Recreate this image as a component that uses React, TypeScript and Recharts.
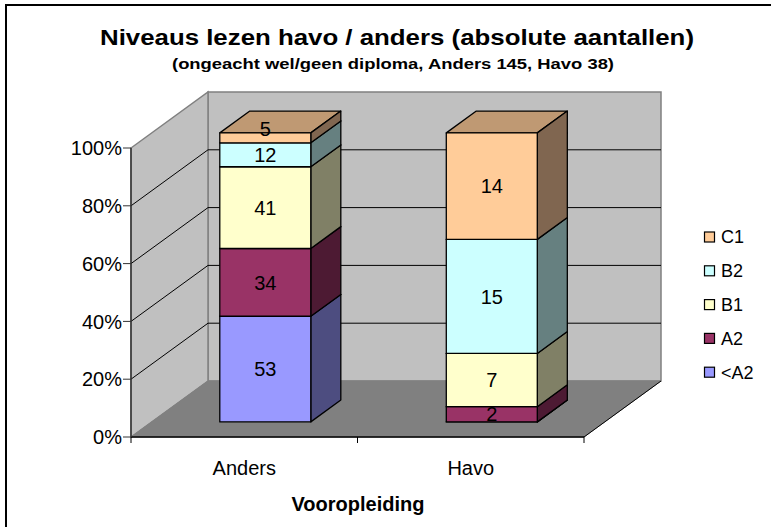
import React from "react";
import { BarChart, Bar, XAxis, YAxis, LabelList } from "recharts";

// reading levels per prior education (absolute counts, shown as 100% stacks)
const categories = ["Anders", "Havo"];
const belowA2 = [53, 0];
const a2 = [34, 2];
const b1 = [41, 7];
const b2 = [12, 15];
const c1 = [5, 14];
const percentTicks = [0, 0.2, 0.4, 0.6, 0.8, 1];

const levels = [
  { key: "belowA2", name: "<A2", values: belowA2, front: "#9999FF", top: "#7373BF", side: "#4D4D80" },
  { key: "a2", name: "A2", values: a2, front: "#993366", top: "#73264D", side: "#4D1A33" },
  { key: "b1", name: "B1", values: b1, front: "#FFFFCC", top: "#BFBF99", side: "#808066" },
  { key: "b2", name: "B2", values: b2, front: "#CCFFFF", top: "#99BFBF", side: "#668080" },
  { key: "c1", name: "C1", values: c1, front: "#FFCC99", top: "#BF9973", side: "#806650" },
];

const data = categories.map((name, i) => {
  const row: Record<string, string | number> = { name };
  levels.forEach((l) => (row[l.key] = l.values[i]));
  return row;
});

// layout of the fake 3D box
const W = 771;
const H = 527;
const LEFT = 131;
const RIGHT = 584;
const TOP = 148;
const BOTTOM = 437;
const DX = 77; // depth of the floor
const DY = 56;
const FRONT = 0.27; // where the bar's front face sits in the depth
const BAR_DEPTH = 0.39;
const FX = DX * FRONT;
const FY = DY * FRONT;
const BX = DX * BAR_DEPTH;
const BY = DY * BAR_DEPTH;

const yAt = (v: number) => BOTTOM - v * (BOTTOM - TOP);
const font = "'Liberation Sans', Arial, sans-serif";

function Box3D(props: any) {
  const { x, y, width, height, fill, side, top } = props;
  if (width == null || height == null) return null;
  const fx = x + FX;
  const fy = y - FY;
  const st = { stroke: "#000", strokeWidth: 1.3, strokeLinejoin: "round" as const };
  return (
    <g>
      <polygon
        points={`${fx},${fy} ${fx + BX},${fy - BY} ${fx + width + BX},${fy - BY} ${fx + width},${fy}`}
        fill={top}
        {...st}
      />
      <polygon
        points={`${fx + width},${fy} ${fx + width + BX},${fy - BY} ${fx + width + BX},${fy + height - BY} ${fx + width},${fy + height}`}
        fill={side}
        {...st}
      />
      <rect x={fx} y={fy} width={width} height={height} fill={fill} {...st} />
    </g>
  );
}

function ValueLabel(props: any) {
  const { x, y, width, height, value } = props;
  if (!value) return null;
  // very thin slices get their label pushed up, like Excel does
  const lift = height < 12 ? 9 : 0;
  return (
    <text
      x={x + width / 2 + FX}
      y={y + height / 2 - FY - lift}
      dy="0.36em"
      textAnchor="middle"
      fontFamily={font}
      fontSize={20}
      fill="#000"
    >
      {value}
    </text>
  );
}

function PercentTick(props: any) {
  const { x, y, payload } = props;
  return (
    <text x={x} y={y} dy="0.36em" textAnchor="end" fontFamily={font} fontSize={20} fill="#000">
      {Math.round(payload.value * 100)}%
    </text>
  );
}

function Backdrop() {
  const inner = percentTicks.slice(1, -1);
  const bandEdges = [LEFT, (LEFT + RIGHT) / 2, RIGHT];
  return (
    <svg width={W} height={H} style={{ position: "absolute", left: 0, top: 0 }}>
      <rect x={6} y={5} width={900} height={700} fill="#fff" stroke="#000" strokeWidth={2} />
      <text x={397} y={45} textAnchor="middle" fontFamily={font} fontWeight="bold" fontSize={22}
        textLength={594} lengthAdjust="spacingAndGlyphs">
        Niveaus lezen havo / anders (absolute aantallen)
      </text>
      <text x={393} y={69} textAnchor="middle" fontFamily={font} fontWeight="bold" fontSize={14}
        textLength={442} lengthAdjust="spacingAndGlyphs">
        (ongeacht wel/geen diploma, Anders 145, Havo 38)
      </text>

      {/* back wall */}
      <rect x={LEFT + DX} y={TOP - DY} width={RIGHT - LEFT} height={BOTTOM - TOP} fill="#C0C0C0" stroke="#808080" strokeWidth={1.5} />
      {/* side wall */}
      <polygon
        points={`${LEFT},${TOP} ${LEFT + DX},${TOP - DY} ${LEFT + DX},${BOTTOM - DY} ${LEFT},${BOTTOM}`}
        fill="#C0C0C0"
        stroke="#808080"
        strokeWidth={1.5}
      />
      {/* floor */}
      <polygon
        points={`${LEFT},${BOTTOM} ${LEFT + DX},${BOTTOM - DY} ${RIGHT + DX},${BOTTOM - DY} ${RIGHT},${BOTTOM}`}
        fill="#808080"
        stroke="#808080"
      />
      <line x1={RIGHT} y1={BOTTOM} x2={RIGHT + DX} y2={BOTTOM - DY} stroke="#000" />
      {inner.map((v) => (
        <polyline
          key={v}
          points={`${LEFT},${yAt(v)} ${LEFT + DX},${yAt(v) - DY} ${RIGHT + DX},${yAt(v) - DY}`}
          fill="none"
          stroke="#000"
          strokeWidth={1}
        />
      ))}
      {bandEdges.map((x) => (
        <line key={x} x1={x} y1={BOTTOM} x2={x} y2={BOTTOM + 6} stroke="#000" />
      ))}

      <text x={358} y={511} textAnchor="middle" fontFamily={font} fontWeight="bold" fontSize={20}>
        Vooropleiding
      </text>

      {[...levels].reverse().map((l, i) => {
        const cy = 237 + i * 33.8;
        return (
          <g key={l.key}>
            <rect x={704.5} y={cy - 5} width={10} height={10} fill={l.front} stroke="#000" strokeWidth={1.2} />
            <text x={721} y={cy} dy="0.36em" fontFamily={font} fontSize={18}>
              {l.name}
            </text>
          </g>
        );
      })}
    </svg>
  );
}

export default function App() {
  return (
    <div style={{ position: "absolute", left: 0, top: 0, width: W, height: H, background: "#fff" }}>
      <Backdrop />
      <div style={{ position: "absolute", left: 0, top: 0 }}>
        <BarChart
          width={W}
          height={H}
          data={data}
          stackOffset="expand"
          margin={{ top: TOP, right: W - RIGHT, bottom: H - BOTTOM - 30, left: LEFT - 60 }}
        >
          <XAxis
            dataKey="name"
            height={30}
            axisLine={{ stroke: "#000", strokeWidth: 1.3 }}
            tickLine={false}
            tickSize={0}
            tickMargin={24}
            tick={{ fontFamily: font, fontSize: 20, fill: "#000" }}
          />
          <YAxis
            width={60}
            domain={[0, 1]}
            ticks={percentTicks}
            axisLine={{ stroke: "#333", strokeWidth: 1.5 }}
            tickLine={{ stroke: "#333" }}
            tickSize={8}
            tickMargin={1}
            tick={<PercentTick />}
          />
          {levels.map((l) => (
            <Bar
              key={l.key}
              dataKey={l.key}
              name={l.name}
              stackId="a"
              fill={l.front}
              barSize={91}
              isAnimationActive={false}
              shape={(p: any) => <Box3D {...p} side={l.side} top={l.top} />}
            >
              <LabelList dataKey={l.key} content={<ValueLabel />} />
            </Bar>
          ))}
        </BarChart>
      </div>
    </div>
  );
}
